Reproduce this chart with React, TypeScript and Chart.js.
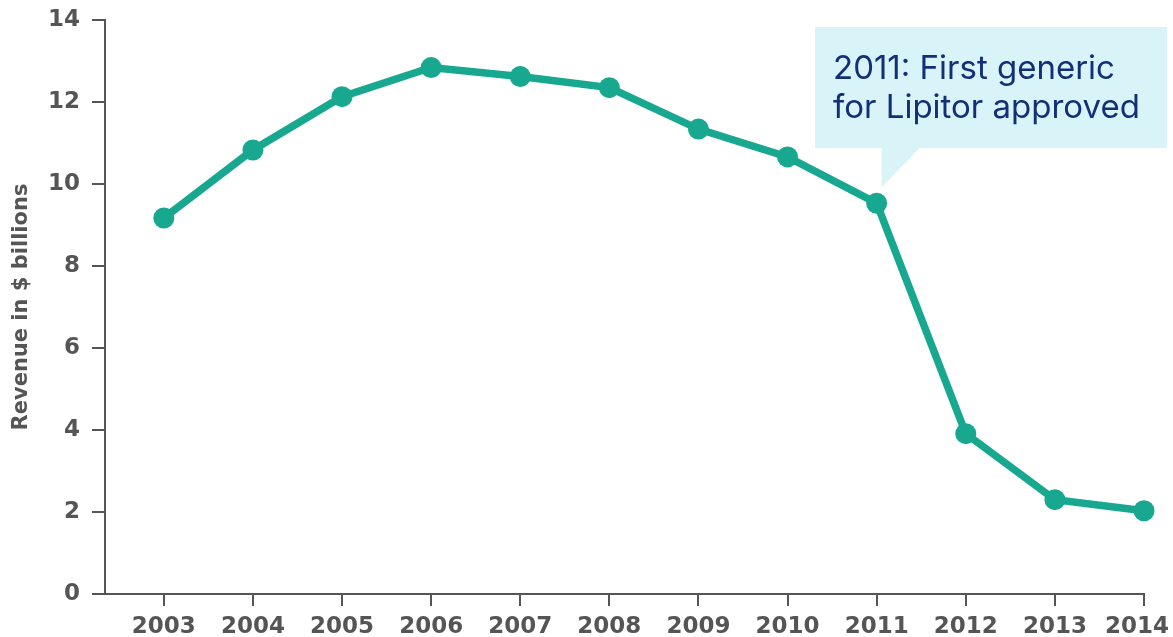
import React, { useEffect, useRef } from "react";
import { Chart, registerables } from "chart.js";

Chart.register(...registerables);

const years = [2003, 2004, 2005, 2006, 2007, 2008, 2009, 2010, 2011, 2012, 2013, 2014];
const revenue = [9.17, 10.83, 12.13, 12.84, 12.62, 12.35, 11.34, 10.66, 9.53, 3.91, 2.3, 2.03];
const yTicks = [0, 2, 4, 6, 8, 10, 12, 14];
const yTitle = "Revenue in $ billions";
const noteLines = ["2011: First generic", "for Lipitor approved"];
const noteYear = 2011;

const AXIS = "#555555";
const TEAL = "#17a88f";
const TICK_FONT = "bold 23px 'DejaVu Sans'";

const xLabelPlugin = {
  id: "xLabels",
  afterDraw(chart: any) {
    const ctx = chart.ctx;
    const xs = chart.scales.x;
    ctx.save();
    ctx.font = TICK_FONT;
    ctx.fillStyle = AXIS;
    ctx.textAlign = "center";
    ctx.textBaseline = "alphabetic";
    years.forEach((y) => {
      const label = String(y);
      const w = ctx.measureText(label).width;
      let px = xs.getPixelForValue(y);
      px = Math.min(px, chart.width - 4 - w / 2);
      ctx.fillText(label, px, 633);
    });
    ctx.restore();
  },
};

const calloutPlugin = {
  id: "callout",
  afterDatasetsDraw(chart: any) {
    const ctx = chart.ctx;
    const xs = chart.scales.x;
    const ys = chart.scales.y;
    const idx = years.indexOf(noteYear);
    const px = xs.getPixelForValue(noteYear);
    const py = ys.getPixelForValue(revenue[idx]);
    ctx.save();
    ctx.fillStyle = "#d9f4f8";
    const left = 815, top = 27, right = 1167, bottom = 148;
    ctx.fillRect(left, top, right - left, bottom - top);
    ctx.beginPath();
    ctx.moveTo(px + 5, bottom);
    ctx.lineTo(px + 5, py - 16);
    ctx.lineTo(px + 43, bottom);
    ctx.closePath();
    ctx.fill();
    ctx.fillStyle = "#122f78";
    ctx.font = "33px Inter";
    ctx.textBaseline = "alphabetic";
    ctx.textAlign = "left";
    ctx.fillText(noteLines[0], 833, 79);
    ctx.fillText(noteLines[1], 833, 118);
    ctx.restore();
  },
};

export default function App() {
  const ref = useRef<HTMLCanvasElement>(null);
  useEffect(() => {
    document.body.style.margin = "0";
    const chart = new Chart(ref.current!, {
      type: "line",
      data: {
        datasets: [
          {
            data: years.map((y, i) => ({ x: y, y: revenue[i] })),
            borderColor: TEAL,
            backgroundColor: TEAL,
            borderWidth: 7.5,
            pointRadius: 10.5,
            pointBackgroundColor: TEAL,
            pointBorderWidth: 0,
            tension: 0,
            clip: false,
          },
        ],
      },
      options: {
        animation: false,
        responsive: false,
        layout: { padding: { top: 20, right: 29, left: 0, bottom: 0 } },
        plugins: { legend: { display: false }, tooltip: { enabled: false } },
        scales: {
          x: {
            type: "linear",
            min: 2002.34,
            max: 2014,
            afterBuildTicks: (s: any) => {
              s.ticks = years.map((v) => ({ value: v }));
            },
            afterFit: (s: any) => {
              s.height = 43;
              s.paddingLeft = 0;
              s.paddingRight = 0;
            },
            ticks: {
              display: false,
              autoSkip: false,
              maxRotation: 0,
            },
            grid: { display: true, drawOnChartArea: false, drawTicks: true, tickLength: 12, color: AXIS, lineWidth: 2 },
            border: { display: true, color: AXIS, width: 2 },
          },
          y: {
            min: 0,
            max: 14,
            afterBuildTicks: (s: any) => {
              s.ticks = yTicks.map((v) => ({ value: v }));
            },
            afterFit: (s: any) => {
              s.width = 105;
              s.paddingTop = 0;
              s.paddingBottom = 0;
            },
            ticks: {
              color: AXIS,
              padding: 12,
              font: { family: "DejaVu Sans", weight: "bold", size: 23 },
            },
            title: {
              display: true,
              text: yTitle,
              color: AXIS,
              padding: { top: 9, bottom: 0 },
              font: { family: "DejaVu Sans", weight: "bold", size: 21 },
            },
            grid: { display: true, drawOnChartArea: false, drawTicks: true, tickLength: 13, color: AXIS, lineWidth: 2 },
            border: { display: true, color: AXIS, width: 2 },
          },
        },
      },
      plugins: [calloutPlugin, xLabelPlugin],
    } as any);
    return () => chart.destroy();
  }, []);
  return <canvas ref={ref} width={1173} height={637} style={{ display: "block" }} />;
}
